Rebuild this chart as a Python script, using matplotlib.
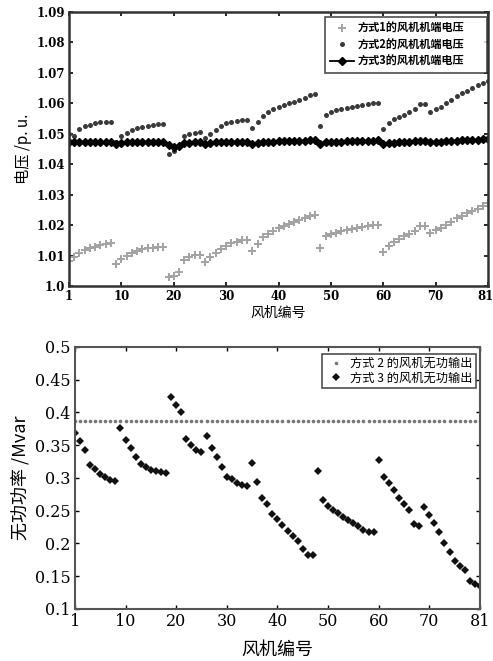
import matplotlib
matplotlib.use('Agg')
import matplotlib.pyplot as plt
import matplotlib.transforms as mtransforms

plt.rcParams['font.family'] = ['Noto Sans CJK SC', 'DejaVu Sans']

# turbine number 1..81
turbine = list(range(1, 82))
tick_pos = [1, 11, 21, 31, 41, 51, 61, 71, 81]
tick_lab = ['1', '10', '20', '30', '40', '50', '60', '70', '81']

# terminal voltage (p.u.) of each turbine, modes 1-3
volt_mode1 = [1.0082, 1.0095, 1.0108, 1.0118, 1.0124, 1.0129, 1.0134, 1.0138, 1.0140,
              1.0072, 1.0088, 1.0100, 1.0110, 1.0116, 1.0121, 1.0124, 1.0126, 1.0127, 1.0127,
              1.0028, 1.0033, 1.0045, 1.0085, 1.0095, 1.0102, 1.0102,
              1.0080, 1.0094, 1.0108, 1.0121, 1.0132, 1.0140, 1.0146, 1.0150, 1.0151,
              1.0115, 1.0138, 1.0160, 1.0172, 1.0182, 1.0190, 1.0196, 1.0203, 1.0210,
              1.0216, 1.0224, 1.0230, 1.0234,
              1.0124, 1.0165, 1.0170, 1.0175, 1.0180, 1.0184, 1.0188, 1.0192, 1.0195,
              1.0198, 1.0200, 1.0202,
              1.0112, 1.0133, 1.0146, 1.0155, 1.0164, 1.0172, 1.0180, 1.0198, 1.0196,
              1.0173, 1.0184, 1.0190, 1.0200, 1.0211, 1.0222, 1.0231, 1.0239, 1.0246,
              1.0253, 1.0263, 1.0272]
volt_mode2 = [1.0498, 1.0494, 1.0515, 1.0524, 1.0530, 1.0535, 1.0538, 1.0540, 1.0540,
              1.0474, 1.0492, 1.0504, 1.0512, 1.0518, 1.0523, 1.0527, 1.0529, 1.0531, 1.0531,
              1.0434, 1.0445, 1.0457, 1.0492, 1.0498, 1.0503, 1.0505,
              1.0485, 1.0499, 1.0512, 1.0525, 1.0536, 1.0540, 1.0543, 1.0545, 1.0545,
              1.0518, 1.0540, 1.0560, 1.0570, 1.0580, 1.0588, 1.0594, 1.0600, 1.0605,
              1.0611, 1.0619, 1.0626, 1.0632,
              1.0526, 1.0563, 1.0571, 1.0577, 1.0581, 1.0585, 1.0589, 1.0592, 1.0595,
              1.0598, 1.0600, 1.0602,
              1.0515, 1.0537, 1.0547, 1.0555, 1.0563, 1.0572, 1.0580, 1.0597, 1.0597,
              1.0572, 1.0580, 1.0589, 1.0601, 1.0612, 1.0623, 1.0633, 1.0642, 1.0651,
              1.0660, 1.0668, 1.0672]
volt_mode3 = [1.0472, 1.0473, 1.0472, 1.0473, 1.0473, 1.0472, 1.0473, 1.0473, 1.0473,
              1.0467, 1.0471, 1.0472, 1.0472, 1.0473, 1.0473, 1.0473, 1.0473, 1.0473, 1.0473,
              1.0462, 1.0457, 1.0461, 1.0470, 1.0471, 1.0472, 1.0472,
              1.0468, 1.0471, 1.0472, 1.0472, 1.0473, 1.0473, 1.0473, 1.0473, 1.0473,
              1.0466, 1.0471, 1.0473, 1.0474, 1.0474, 1.0475, 1.0475, 1.0476, 1.0476,
              1.0477, 1.0477, 1.0478, 1.0480,
              1.0466, 1.0472, 1.0473, 1.0474, 1.0474, 1.0475, 1.0475, 1.0476, 1.0476,
              1.0477, 1.0477, 1.0478,
              1.0465, 1.0469, 1.0471, 1.0472, 1.0473, 1.0474, 1.0475, 1.0477, 1.0476,
              1.0472, 1.0473, 1.0474, 1.0475, 1.0476, 1.0477, 1.0478, 1.0479, 1.0480,
              1.0481, 1.0482, 1.0484]

# reactive power output (Mvar), modes 2 and 3
q_mode2 = [0.387, 0.387, 0.387, 0.387, 0.387, 0.387, 0.387, 0.387, 0.387,
           0.387, 0.387, 0.387, 0.387, 0.387, 0.387, 0.387, 0.387, 0.387,
           0.387, 0.387, 0.387, 0.387, 0.387, 0.387, 0.387, 0.387, 0.387,
           0.387, 0.387, 0.387, 0.387, 0.387, 0.387, 0.387, 0.387, 0.387,
           0.387, 0.387, 0.387, 0.387, 0.387, 0.387, 0.387, 0.387, 0.387,
           0.387, 0.387, 0.387, 0.387, 0.387, 0.387, 0.387, 0.387, 0.387,
           0.387, 0.387, 0.387, 0.387, 0.387, 0.387, 0.387, 0.387, 0.387,
           0.387, 0.387, 0.387, 0.387, 0.387, 0.387, 0.387, 0.387, 0.387,
           0.387, 0.387, 0.387, 0.387, 0.387, 0.387, 0.387, 0.387, 0.387]
q_mode3 = [0.369, 0.357, 0.342, 0.320, 0.313, 0.306, 0.301, 0.297, 0.295,
           0.376, 0.358, 0.345, 0.332, 0.321, 0.316, 0.312, 0.310, 0.309, 0.308,
           0.424, 0.412, 0.400, 0.359, 0.351, 0.343, 0.339,
           0.364, 0.345, 0.332, 0.317, 0.302, 0.298, 0.293, 0.290, 0.288,
           0.323, 0.294, 0.269, 0.261, 0.245, 0.237, 0.228, 0.219, 0.211,
           0.204, 0.191, 0.182, 0.182,
           0.311, 0.267, 0.257, 0.251, 0.246, 0.241, 0.236, 0.232, 0.227,
           0.221, 0.218, 0.218,
           0.328, 0.301, 0.292, 0.281, 0.269, 0.260, 0.251, 0.230, 0.227,
           0.256, 0.244, 0.232, 0.217, 0.201, 0.187, 0.173, 0.166, 0.160,
           0.143, 0.138, 0.135]

v_ticks = [1.0, 1.01, 1.02, 1.03, 1.04, 1.05, 1.06, 1.07, 1.08, 1.09]
v_tick_lab = ['1.0', '1.01', '1.02', '1.03', '1.04', '1.05', '1.06', '1.07', '1.08', '1.09']
q_ticks = [0.1, 0.15, 0.2, 0.25, 0.3, 0.35, 0.4, 0.45, 0.5]
q_tick_lab = ['0.1', '0.15', '0.2', '0.25', '0.3', '0.35', '0.4', '0.45', '0.5']

fig = plt.figure(figsize=(4.93, 6.61), dpi=100)

# ---- top: voltage
ax1 = fig.add_axes([0.140, 0.5673, 0.850, 0.4145])
ax1.plot(turbine, volt_mode1, 'P', color='#a4a4a4', markersize=6, markeredgewidth=0,
         label='方式1的风机机端电压')
ax1.plot(turbine, volt_mode2, 'o', color='#3a3a3a', markersize=3.6, markeredgewidth=0,
         label='方式2的风机机端电压')
ax1.plot(turbine, volt_mode3, '-D', color='black', markersize=3.8, linewidth=1.3,
         label='方式3的风机机端电压')
ax1.set_xlim(1, 81)
ax1.set_ylim(1.0, 1.09)
ax1.set_xticks(tick_pos)
ax1.set_xticklabels(tick_lab, family='DejaVu Serif', fontsize=8.5, fontweight='bold')
ax1.set_yticks(v_ticks)
ax1.set_yticklabels(v_tick_lab, family='DejaVu Serif', fontsize=8.5, fontweight='bold')
ax1.tick_params(direction='in', top=True, right=True, length=3, width=1.2, pad=3)
# keep the last "81" label inside the picture
last = ax1.get_xticklabels()[-1]
last.set_transform(last.get_transform() +
                   mtransforms.ScaledTranslation(-3 / 100, 0, fig.dpi_scale_trans))
for s in ax1.spines.values():
    s.set_linewidth(1.8)
    s.set_color('#333333')
ax1.set_xlabel('风机编号', fontsize=10, labelpad=2)
ax1.set_ylabel('电压 /p. u.', fontsize=11, labelpad=3)
leg1 = ax1.legend(loc='upper left', bbox_to_anchor=(0.611, 0.0, 0.386, 0.982),
                  mode='expand', fontsize=8, frameon=True, fancybox=False,
                  edgecolor='#222222', borderpad=0.4, handletextpad=0.3,
                  labelspacing=0.35, handlelength=2.2, borderaxespad=0)
leg1.get_frame().set_linewidth(1.2)
for t in leg1.get_texts():
    t.set_fontweight('bold')

# ---- bottom: reactive power
ax2 = fig.add_axes([0.152, 0.0787, 0.8215, 0.3964])
ax2.plot(turbine, q_mode2, 'o', color='#777777', markersize=2.6, markeredgewidth=0,
         label='方式 2 的风机无功输出')
ax2.plot(turbine, q_mode3, 'D', color='#111111', markersize=4, markeredgewidth=0,
         label='方式 3 的风机无功输出')
ax2.set_xlim(1, 81)
ax2.set_ylim(0.1, 0.5)
ax2.set_xticks(tick_pos)
ax2.set_xticklabels(tick_lab, family='DejaVu Serif', fontsize=11.5)
ax2.set_yticks(q_ticks)
ax2.set_yticklabels(q_tick_lab, family='DejaVu Serif', fontsize=11.5)
ax2.tick_params(direction='in', top=True, right=True, length=3, width=1.0, pad=3)
for s in ax2.spines.values():
    s.set_linewidth(1.5)
    s.set_color('#555555')
ax2.set_xlabel('风机编号', fontsize=13, labelpad=8)
ax2.set_ylabel('无功功率 /Mvar', fontsize=13, labelpad=3)
leg2 = ax2.legend(loc='upper right', bbox_to_anchor=(0.99, 0.975), fontsize=8.8,
                  frameon=True, fancybox=False, edgecolor='#222222',
                  borderpad=0.3, handletextpad=0.2, labelspacing=0.1,
                  handlelength=1.8, borderaxespad=0)
leg2.get_frame().set_linewidth(1.2)

fig.savefig('out.png', dpi=100)
